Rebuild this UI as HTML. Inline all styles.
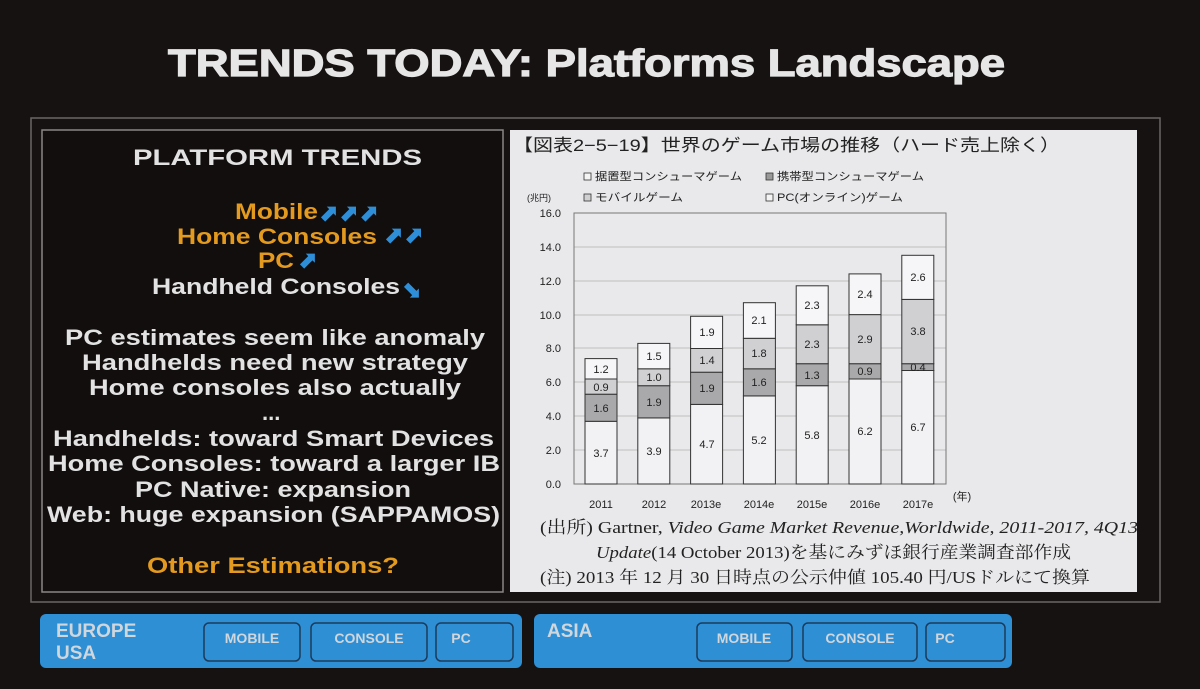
<!DOCTYPE html>
<html><head><meta charset="utf-8"><style>
body{margin:0;background:#171212;}
svg{display:block}
.b{font-family:"Liberation Sans",sans-serif;font-weight:bold}
.j{font-family:"Liberation Sans","Noto Sans CJK JP",sans-serif}
.s{font-family:"Liberation Serif","Noto Serif CJK SC",serif}
</style></head><body>
<svg width="1200" height="689" viewBox="0 0 1200 689" xmlns="http://www.w3.org/2000/svg">
<rect width="1200" height="689" fill="#171212"/>
<text x="168" y="76" class="b" font-size="38" fill="#e6e6e6" textLength="837" lengthAdjust="spacingAndGlyphs" stroke="#e6e6e6" stroke-width="1.2">TRENDS TODAY: Platforms Landscape</text>
<rect x="31" y="118" width="1129" height="484" fill="none" stroke="#6a6666" stroke-width="1.5"/>
<rect x="42" y="130" width="461" height="462" fill="#120e0e" stroke="#8a8686" stroke-width="1.5"/>
<g class="b" font-size="22" fill="#e2e2e2" lengthAdjust="spacingAndGlyphs">
<text x="133" y="165" textLength="289" lengthAdjust="spacingAndGlyphs">PLATFORM TRENDS</text>
<text x="235" y="219" fill="#e39a1e" textLength="83" lengthAdjust="spacingAndGlyphs">Mobile</text>
<text x="177" y="244" fill="#e39a1e" textLength="200" lengthAdjust="spacingAndGlyphs">Home Consoles</text>
<text x="258" y="268" fill="#e39a1e" textLength="36" lengthAdjust="spacingAndGlyphs">PC</text>
<text x="152" y="294" textLength="248" lengthAdjust="spacingAndGlyphs">Handheld Consoles</text>
<text x="65" y="345" textLength="420" lengthAdjust="spacingAndGlyphs">PC estimates seem like anomaly</text>
<text x="82" y="370" textLength="386" lengthAdjust="spacingAndGlyphs">Handhelds need new strategy</text>
<text x="89" y="395" textLength="372" lengthAdjust="spacingAndGlyphs">Home consoles also actually</text>
<text x="262" y="420">...</text>
<text x="53" y="446" textLength="441" lengthAdjust="spacingAndGlyphs">Handhelds: toward Smart Devices</text>
<text x="48" y="471" textLength="452" lengthAdjust="spacingAndGlyphs">Home Consoles: toward a larger IB</text>
<text x="135" y="497" textLength="276" lengthAdjust="spacingAndGlyphs">PC Native: expansion</text>
<text x="47" y="522" textLength="453" lengthAdjust="spacingAndGlyphs">Web: huge expansion (SAPPAMOS)</text>
<text x="147" y="573" fill="#e39a1e" textLength="252" lengthAdjust="spacingAndGlyphs">Other Estimations?</text>
</g>
<g fill="#2e8fd8" font-family="DejaVu Sans" font-size="24" font-weight="bold">
<text x="318" y="221">⬈⬈⬈</text>
<text x="383" y="243">⬈⬈</text>
<text x="297" y="268">⬈</text>
<text x="401" y="297">⬊</text>
</g>
<rect x="510" y="130" width="627" height="462" fill="#e9e9eb"/>
<text x="513" y="151" class="j" font-size="17" fill="#222" textLength="547" lengthAdjust="spacingAndGlyphs">【図表2−5−19】世界のゲーム市場の推移（ハード売上除く）</text>
<g class="j" font-size="11" fill="#222">
<rect x="584" y="173" width="7" height="7" fill="#f4f4f4" stroke="#333" stroke-width="0.8"/><text x="595" y="180" textLength="147" lengthAdjust="spacingAndGlyphs">据置型コンシューマゲーム</text>
<rect x="766" y="173" width="7" height="7" fill="#999" stroke="#333" stroke-width="0.8"/><text x="777" y="180" textLength="147" lengthAdjust="spacingAndGlyphs">携帯型コンシューマゲーム</text>
<text x="527" y="201" font-size="9">(兆円)</text>
<rect x="584" y="194" width="7" height="7" fill="#d0d0d3" stroke="#333" stroke-width="0.8"/><text x="595" y="201" textLength="88" lengthAdjust="spacingAndGlyphs">モバイルゲーム</text>
<rect x="766" y="194" width="7" height="7" fill="#f4f4f4" stroke="#333" stroke-width="0.8"/><text x="777" y="201" textLength="126" lengthAdjust="spacingAndGlyphs">PC(オンライン)ゲーム</text>
</g>
<g stroke="#b0b0b0" stroke-width="0.8">
<line x1="574" x2="946" y1="450" y2="450"/><line x1="574" x2="946" y1="416" y2="416"/>
<line x1="574" x2="946" y1="382" y2="382"/><line x1="574" x2="946" y1="348" y2="348"/>
<line x1="574" x2="946" y1="315" y2="315"/><line x1="574" x2="946" y1="281" y2="281"/>
<line x1="574" x2="946" y1="247" y2="247"/>
</g>
<rect x="574" y="213" width="372" height="271" fill="none" stroke="#777" stroke-width="1"/>
<g class="j" font-size="11" fill="#222" text-anchor="end">
<text x="561" y="488">0.0</text><text x="561" y="454">2.0</text><text x="561" y="420">4.0</text>
<text x="561" y="386">6.0</text><text x="561" y="352">8.0</text><text x="561" y="319">10.0</text>
<text x="561" y="285">12.0</text><text x="561" y="251">14.0</text><text x="561" y="217">16.0</text>
</g>
<g stroke="#333" stroke-width="1">
<rect x="585" y="421.3" width="32" height="62.7" fill="#f2f2f4"/><rect x="585" y="394.2" width="32" height="27.1" fill="#a9a9ab"/><rect x="585" y="379" width="32" height="15.2" fill="#d0d0d3"/><rect x="585" y="358.6" width="32" height="20.4" fill="#f6f6f8"/>
<rect x="637.8" y="417.9" width="32" height="66.1" fill="#f2f2f4"/><rect x="637.8" y="385.7" width="32" height="32.2" fill="#a9a9ab"/><rect x="637.8" y="368.8" width="32" height="16.9" fill="#d0d0d3"/><rect x="637.8" y="343.4" width="32" height="25.4" fill="#f6f6f8"/>
<rect x="690.6" y="404.4" width="32" height="79.6" fill="#f2f2f4"/><rect x="690.6" y="372.2" width="32" height="32.2" fill="#a9a9ab"/><rect x="690.6" y="348.5" width="32" height="23.7" fill="#d0d0d3"/><rect x="690.6" y="316.3" width="32" height="32.2" fill="#f6f6f8"/>
<rect x="743.4" y="395.9" width="32" height="88.1" fill="#f2f2f4"/><rect x="743.4" y="368.8" width="32" height="27.1" fill="#a9a9ab"/><rect x="743.4" y="338.3" width="32" height="30.5" fill="#d0d0d3"/><rect x="743.4" y="302.7" width="32" height="35.6" fill="#f6f6f8"/>
<rect x="796.2" y="385.7" width="32" height="98.3" fill="#f2f2f4"/><rect x="796.2" y="363.7" width="32" height="22" fill="#a9a9ab"/><rect x="796.2" y="324.8" width="32" height="38.9" fill="#d0d0d3"/><rect x="796.2" y="285.8" width="32" height="39" fill="#f6f6f8"/>
<rect x="849" y="379" width="32" height="105" fill="#f2f2f4"/><rect x="849" y="363.7" width="32" height="15.3" fill="#a9a9ab"/><rect x="849" y="314.6" width="32" height="49.1" fill="#d0d0d3"/><rect x="849" y="273.9" width="32" height="40.7" fill="#f6f6f8"/>
<rect x="901.8" y="370.5" width="32" height="113.5" fill="#f2f2f4"/><rect x="901.8" y="363.7" width="32" height="6.8" fill="#a9a9ab"/><rect x="901.8" y="299.4" width="32" height="64.3" fill="#d0d0d3"/><rect x="901.8" y="255.3" width="32" height="44.1" fill="#f6f6f8"/>
</g>
<g class="j" font-size="11" fill="#222" text-anchor="middle">
<text x="601" y="457">3.7</text><text x="601" y="412">1.6</text><text x="601" y="391">0.9</text><text x="601" y="373">1.2</text>
<text x="654" y="455">3.9</text><text x="654" y="406">1.9</text><text x="654" y="381">1.0</text><text x="654" y="360">1.5</text>
<text x="707" y="448">4.7</text><text x="707" y="392">1.9</text><text x="707" y="364">1.4</text><text x="707" y="336">1.9</text>
<text x="759" y="444">5.2</text><text x="759" y="386">1.6</text><text x="759" y="357">1.8</text><text x="759" y="324">2.1</text>
<text x="812" y="439">5.8</text><text x="812" y="379">1.3</text><text x="812" y="348">2.3</text><text x="812" y="309">2.3</text>
<text x="865" y="435">6.2</text><text x="865" y="375">0.9</text><text x="865" y="343">2.9</text><text x="865" y="298">2.4</text>
<text x="918" y="431">6.7</text><text x="918" y="371">0.4</text><text x="918" y="335">3.8</text><text x="918" y="281">2.6</text>
</g>
<g class="j" font-size="11" fill="#222" text-anchor="middle">
<text x="601" y="508">2011</text><text x="654" y="508">2012</text><text x="706" y="508">2013e</text>
<text x="759" y="508">2014e</text><text x="812" y="508">2015e</text><text x="865" y="508">2016e</text>
<text x="918" y="508">2017e</text><text x="962" y="500">(年)</text>
</g>
<g class="s" font-size="17" fill="#222">
<text x="540" y="533" textLength="598" lengthAdjust="spacingAndGlyphs">(出所) Gartner, <tspan font-style="italic">Video Game Market Revenue,Worldwide, 2011-2017, 4Q13</tspan></text>
<text x="596" y="558" textLength="475" lengthAdjust="spacingAndGlyphs"><tspan font-style="italic">Update</tspan>(14 October 2013)を基にみずほ銀行産業調査部作成</text>
<text x="540" y="583" textLength="550" lengthAdjust="spacingAndGlyphs">(注) 2013 年 12 月 30 日時点の公示仲値 105.40 円/USドルにて換算</text>
</g>
<g class="b">
<rect x="40" y="614" width="482" height="54" rx="6" fill="#2e8fd4"/>
<rect x="534" y="614" width="478" height="54" rx="6" fill="#2e8fd4"/>
<g fill="none" stroke="#1c3a5a" stroke-width="1.5">
<rect x="204" y="623" width="96" height="38" rx="5"/><rect x="311" y="623" width="116" height="38" rx="5"/><rect x="436" y="623" width="77" height="38" rx="5"/>
<rect x="697" y="623" width="95" height="38" rx="5"/><rect x="803" y="623" width="114" height="38" rx="5"/><rect x="926" y="623" width="79" height="38" rx="5"/>
</g>
<g fill="#cfd6dc" font-size="14" text-anchor="middle">
<text x="252" y="643">MOBILE</text><text x="369" y="643">CONSOLE</text><text x="461" y="643">PC</text>
<text x="744" y="643">MOBILE</text><text x="860" y="643">CONSOLE</text><text x="945" y="643">PC</text>
</g>
<g fill="#cfd6dc" font-size="19">
<text x="56" y="637">EUROPE</text><text x="56" y="659">USA</text><text x="547" y="637">ASIA</text>
</g>
</g>
</svg>
</body></html>
